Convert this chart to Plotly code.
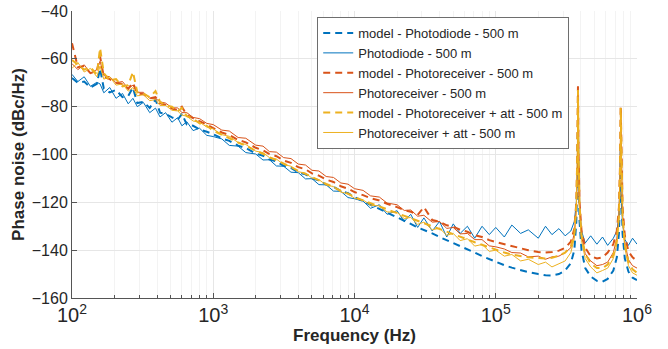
import plotly.graph_objects as go

# Frequency grid (Hz)
freq = [
    100, 110, 122, 135, 150, 158, 168, 185, 205, 228, 250, 270, 290, 320, 355, 390, 420, 460, 510, 560, 600, 650, 720, 800, 900,
    1000, 1150, 1300, 1500, 1700, 2000, 2250, 2500, 2800, 3150, 3550, 4000, 4500, 5000, 5600, 6300, 7100, 8000, 9000,
    10000, 11500, 13000, 15000, 17000, 20000, 22500, 25000, 28000, 31000, 35500, 40000, 45000, 50000, 56000, 63000, 71000, 80000, 90000,
    100000, 115000, 130000, 150000, 170000, 200000, 225000, 250000, 280000, 310000, 340000, 360000, 372000, 378000, 382000, 386000,
    392000, 405000, 430000, 470000, 520000, 570000, 620000, 680000, 720000, 745000, 758000, 767000, 776000, 790000, 820000, 870000,
    930000, 1000000,
]

pd_model = [
    -68.0, -70.0, -69.5, -72.0, -70.5, -64.0, -72.5, -74.0, -73.0, -76.0, -75.5, -72.0, -78.5, -78.0, -80.5, -77.0, -82.5, -83.0, -84.5, -85.5, -83.0, -87.5, -88.0, -89.5, -90.5,
    -91.5, -93.3, -94.3, -96.3, -97.3, -99.6, -100.5, -102.1, -102.9, -104.7, -105.6, -107.5, -108.3, -110.0, -110.8, -112.6, -113.5, -115.3, -116.2,
    -117.8, -119.5, -120.8, -122.5, -124.0, -126.0, -127.5, -129.0, -130.5, -131.5, -133.0, -134.5, -135.8, -137.0, -138.3, -139.6, -141.0, -142.5, -143.8,
    -145.0, -146.3, -147.3, -148.3, -149.2, -150.0, -150.5, -150.6, -150.0, -148.5, -145.5, -140.0, -128.0, -110.0, -88.0, -110.0,
    -128.0, -140.0, -147.5, -151.0, -152.8, -153.2, -152.0, -148.5, -143.0, -133.0, -118.0, -96.0, -118.0, -133.0, -143.5, -149.0,
    -151.5, -152.5,
]

pd_meas = [
    -66.5, -69.5, -67.5, -71.5, -69.8, -70.5, -74.2, -72.0, -76.5, -74.5, -78.8, -76.5, -80.0, -78.2, -82.5, -80.6, -84.3, -82.5, -86.5, -84.6, -88.0, -86.3, -90.0, -89.0, -92.0,
    -92.5, -93.5, -96.2, -96.5, -99.2, -99.8, -102.3, -102.2, -104.8, -104.9, -107.4, -107.6, -110.2, -110.1, -112.6, -112.7, -115.3, -115.4, -118.0,
    -118.5, -119.5, -122.5, -121.0, -125.0, -123.5, -128.0, -125.0, -130.5, -126.5, -132.0, -128.0, -134.5, -129.0, -133.0, -130.0, -135.0, -130.0, -133.5,
    -130.5, -134.5, -129.5, -133.0, -131.5, -135.0, -130.0, -133.5, -131.0, -134.0, -132.0, -128.0, -120.0, -108.0, -100.0, -108.0,
    -122.0, -132.0, -137.0, -134.0, -137.5, -134.5, -138.0, -135.0, -132.0, -126.0, -118.0, -112.0, -120.0, -129.0, -135.5, -138.0,
    -135.0, -137.5,
]

pr_model = [
    -53.5, -63.5, -63.0, -66.0, -65.0, -59.0, -67.5, -68.5, -70.0, -70.5, -72.5, -70.0, -74.5, -74.8, -76.5, -76.0, -78.5, -79.3, -80.8, -81.5, -80.0, -83.5, -84.8, -86.0, -87.5,
    -89.0, -90.8, -91.8, -93.9, -94.9, -97.2, -98.2, -99.8, -100.7, -102.5, -103.5, -105.3, -106.2, -107.9, -108.8, -110.5, -111.5, -113.3, -114.3,
    -115.7, -117.0, -118.3, -119.2, -120.6, -122.0, -123.3, -123.9, -125.3, -122.0, -127.4, -128.1, -129.6, -130.2, -131.5, -132.3, -133.7, -134.5, -135.8,
    -136.6, -137.5, -138.5, -139.2, -140.0, -140.8, -141.0, -140.8, -140.2, -139.0, -136.5, -131.0, -120.0, -100.0, -71.5, -100.0,
    -120.0, -132.0, -139.0, -142.5, -143.5, -143.0, -141.0, -137.5, -132.0, -122.0, -105.0, -80.0, -105.0, -122.0, -134.0, -140.5,
    -143.0, -144.5,
]

pr_meas = [
    -62.0, -64.5, -62.5, -66.0, -64.5, -61.0, -67.0, -67.5, -70.0, -69.5, -72.5, -71.0, -74.0, -74.0, -76.5, -76.5, -78.0, -78.5, -80.5, -80.5, -82.5, -82.5, -84.5, -85.0, -87.0,
    -87.5, -89.8, -90.2, -92.9, -93.2, -96.1, -96.5, -98.8, -99.0, -101.3, -101.7, -104.0, -104.4, -106.6, -106.9, -109.2, -109.6, -111.9, -112.4,
    -114.3, -115.0, -117.3, -117.8, -120.3, -121.0, -123.4, -123.2, -125.8, -125.4, -128.3, -128.0, -130.9, -130.5, -133.2, -133.0, -135.6, -135.6, -138.2,
    -138.6, -139.5, -141.0, -141.2, -142.8, -142.5, -143.8, -142.8, -142.5, -141.0, -139.0, -133.0, -122.0, -104.0, -78.0, -104.0,
    -123.0, -134.0, -141.5, -144.5, -146.5, -146.0, -145.0, -141.0, -135.0, -125.0, -108.0, -81.0, -108.0, -125.0, -137.0, -144.0,
    -146.5, -147.5,
]

pratt_model = [
    -60.5, -62.5, -64.5, -63.5, -66.5, -55.5, -66.0, -69.0, -68.5, -71.5, -71.0, -65.5, -74.0, -74.5, -76.0, -73.5, -78.0, -79.5, -80.0, -82.0, -80.5, -84.0, -85.0, -87.0, -88.0,
    -90.0, -91.8, -93.1, -95.0, -96.3, -98.5, -99.7, -101.2, -102.3, -103.9, -105.2, -106.8, -108.1, -109.5, -110.7, -112.3, -113.6, -115.2, -116.4,
    -117.8, -119.2, -120.3, -121.7, -122.9, -124.5, -125.6, -126.6, -127.7, -128.7, -130.0, -131.2, -132.3, -133.3, -134.4, -135.5, -136.7, -137.8, -139.0,
    -140.0, -141.0, -141.8, -142.5, -143.0, -143.3, -143.5, -143.2, -142.3, -141.0, -138.5, -133.0, -121.0, -101.0, -73.0, -101.0,
    -121.0, -134.0, -141.5, -145.5, -147.5, -147.5, -146.0, -142.0, -136.0, -125.0, -107.0, -80.5, -107.0, -125.0, -137.5, -145.0,
    -148.0, -149.5,
]

pratt_meas = [
    -64.0, -61.5, -65.5, -64.0, -67.5, -63.0, -68.5, -67.5, -71.0, -70.5, -73.5, -72.0, -75.5, -75.0, -77.5, -77.0, -79.5, -79.5, -81.5, -81.8, -83.5, -84.0, -86.0, -86.5, -88.5,
    -89.3, -91.7, -92.4, -95.0, -95.8, -98.6, -99.2, -101.3, -101.9, -104.2, -104.9, -107.2, -107.8, -109.9, -110.5, -112.8, -113.4, -115.7, -116.4,
    -118.3, -119.0, -121.2, -121.5, -124.0, -124.2, -126.8, -126.3, -129.2, -128.3, -131.5, -130.8, -133.8, -133.0, -136.0, -135.2, -138.3, -137.6, -140.5,
    -140.0, -142.5, -141.8, -144.5, -143.8, -146.0, -145.0, -147.0, -145.5, -144.5, -141.0, -135.0, -124.0, -105.0, -80.0, -105.0,
    -124.0, -136.0, -143.5, -147.0, -149.5, -148.5, -147.5, -143.5, -137.5, -127.0, -110.0, -83.0, -110.0, -127.0, -139.0, -146.5,
    -149.5, -150.5,
]

series = [
    ("model - Photodiode - 500 m", pd_model, "#0072BD", True),
    ("Photodiode - 500 m", pd_meas, "#0072BD", False),
    ("model - Photoreceiver - 500 m", pr_model, "#D95319", True),
    ("Photoreceiver - 500 m", pr_meas, "#D95319", False),
    ("model - Photoreceiver + att - 500 m", pratt_model, "#EDB120", True),
    ("Photoreceiver + att - 500 m", pratt_meas, "#EDB120", False),
]

y_ticks = [-160, -140, -120, -100, -80, -60, -40]

fig = go.Figure()
for name, vals, color, dashed in series:
    fig.add_trace(go.Scatter(
        x=freq, y=vals, mode="lines", name=name,
        line=dict(color=color, width=2 if dashed else 1,
                  dash="7px,5px" if dashed else "solid"),
    ))

font_family = "Liberation Sans, Arial, sans-serif"
fig.update_layout(
    width=668, height=349,
    margin=dict(l=72, r=31, t=11, b=51),
    paper_bgcolor="white", plot_bgcolor="white",
    font=dict(family=font_family, color="#262626"),
    showlegend=True,
    legend=dict(
        x=0.434, y=0.979, xanchor="left", yanchor="top",
        bgcolor="white", bordercolor="#6e6e6e", borderwidth=1,
        font=dict(size=13, family=font_family, color="#262626"),
        itemwidth=30, tracegroupgap=0,
    ),
)
fig.update_xaxes(
    type="log", range=[2, 6], dtick=1, exponentformat="power",
    showgrid=True, gridcolor="#e6e6e6", gridwidth=1,
    minor=dict(showgrid=True, gridcolor="#f3f3f3", ticks="inside", ticklen=3, tickcolor="#555"),
    ticks="inside", ticklen=5, tickcolor="#555",
    showline=True, linecolor="#555", linewidth=1, mirror=False,
    tickfont=dict(size=16), zeroline=False, ticklabeloverflow="allow",
    title=dict(text="<b>Frequency (Hz)</b>", font=dict(size=17), standoff=0),
    automargin=False,
)
fig.update_yaxes(
    range=[-160, -40], tickvals=y_ticks,
    showgrid=True, gridcolor="#e6e6e6", gridwidth=1,
    ticks="inside", ticklen=5, tickcolor="#555",
    showline=True, linecolor="#555", linewidth=1, mirror=False,
    tickfont=dict(size=16), zeroline=False, ticklabeloverflow="allow",
    title=dict(text="<b>Phase noise (dBc/Hz)</b>", font=dict(size=17), standoff=2),
    automargin=False,
)

fig.write_html(
    "out.html",
    config={"displayModeBar": False},
    post_script="document.body.style.margin='0';",
)
